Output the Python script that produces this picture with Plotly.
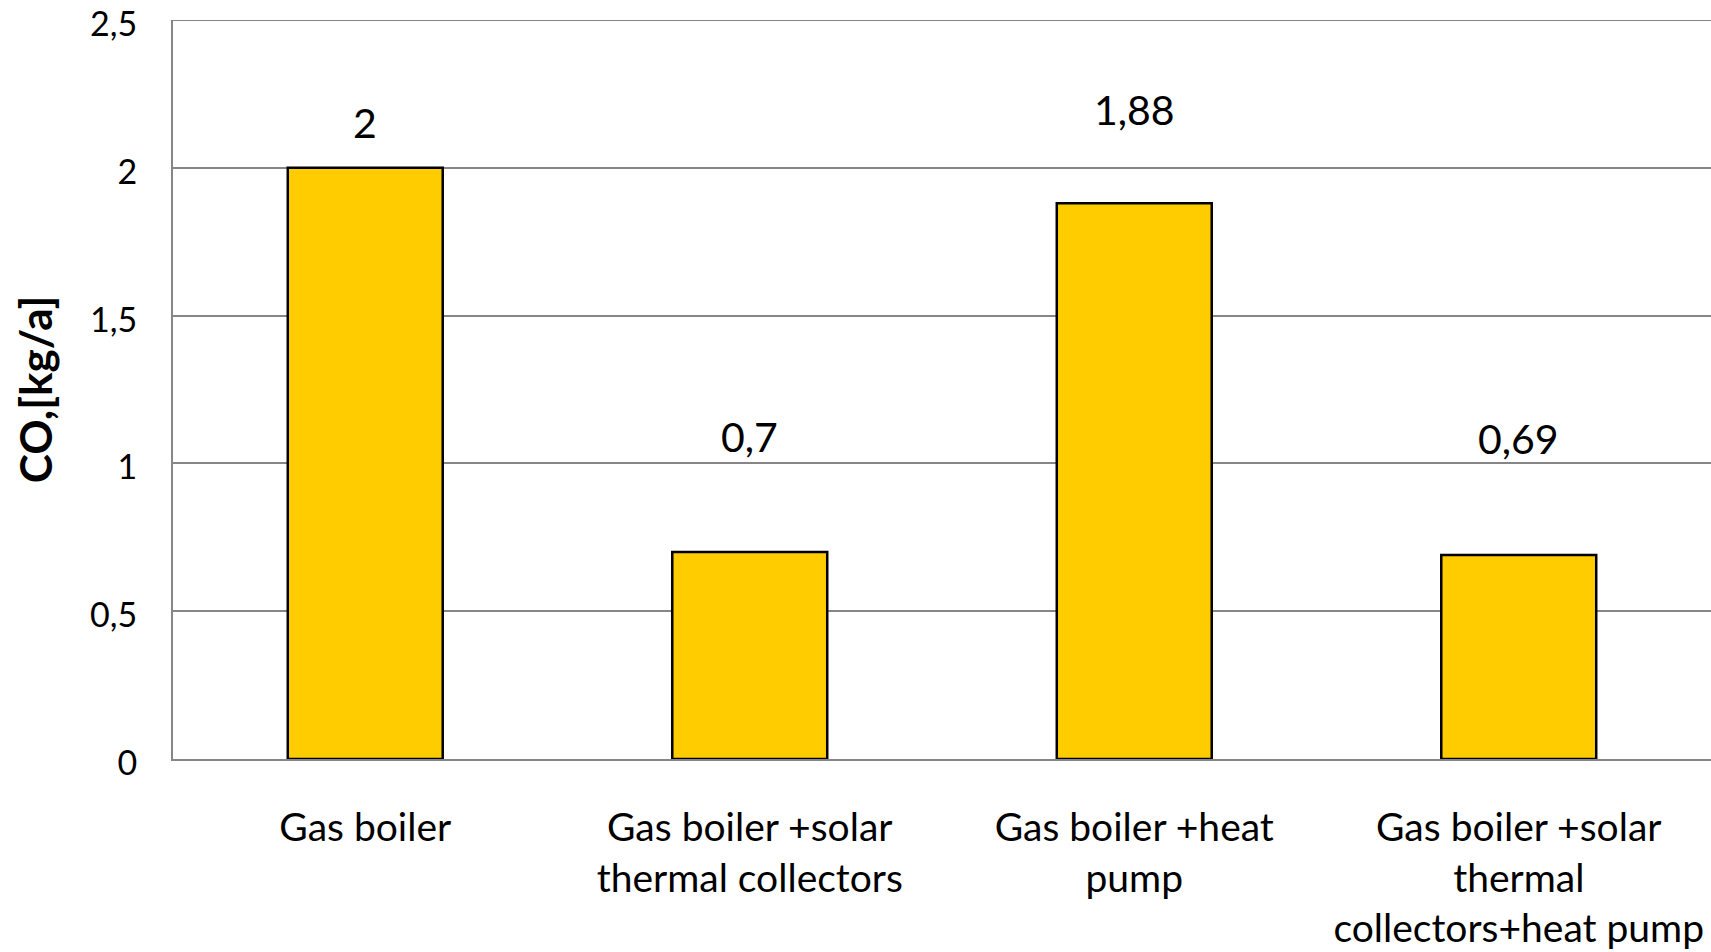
import plotly.graph_objects as go

categories = [
    "Gas boiler",
    "Gas boiler +solar<br>thermal collectors",
    "Gas boiler +heat<br>pump",
    "Gas boiler +solar<br>thermal<br>collectors+heat pump",
]
values = [2.0, 0.7, 1.88, 0.69]
value_labels = ["2", "0,7", "1,88", "0,69"]
y_tick_vals = [0, 0.5, 1, 1.5, 2, 2.5]
y_tick_text = ["0", "0,5", "1", "1,5", "2", "2,5"]
y_title = "CO,[kg/a]"

# label pixel offsets above bar tops (style)
label_shift = [45, 116, 94, 117]

FONT = "Lato"
GRID = "#868686"

fig = go.Figure()
fig.add_trace(go.Bar(
    x=categories,
    y=values,
    marker=dict(color="#FFCC00", line=dict(color="#000000", width=2.5)),
    width=0.403,
    hoverinfo="skip",
))

for c, v, t, s in zip(categories, values, value_labels, label_shift):
    fig.add_annotation(x=c, y=v, text=t, showarrow=False, yanchor="middle",
                       yshift=s, font=dict(family=FONT, size=41, color="#000000"))

# top gridline (at the last tick value), which Plotly culls at the plot edge
fig.add_shape(type="line", xref="paper", x0=0, x1=1, yref="y",
              y0=y_tick_vals[-1], y1=y_tick_vals[-1],
              line=dict(color=GRID, width=2), layer="below")

fig.update_layout(
    width=1711, height=952,
    margin=dict(l=173, r=0, t=20, b=193),
    paper_bgcolor="white", plot_bgcolor="white",
    showlegend=False,
    font=dict(family=FONT, color="#000000"),
)
fig.update_xaxes(
    showline=True, linecolor=GRID, linewidth=2,
    showgrid=False, ticks="", tickfont=dict(family=FONT, size=39),
    ticklabelstandoff=33,
)
fig.update_yaxes(
    range=[0, 2.5], tickvals=y_tick_vals, ticktext=y_tick_text,
    showline=True, linecolor=GRID, linewidth=2,
    showgrid=True, gridcolor=GRID, gridwidth=2,
    zeroline=False, ticks="", tickfont=dict(family=FONT, size=34),
    ticklabelstandoff=27, ticklabelshift=4, ticklabeloverflow="allow",
    title=dict(text="<b>" + y_title + "</b>", font=dict(family=FONT, size=44), standoff=24),
    automargin=False,
)

fig.write_html("out.html", config={"displayModeBar": False},
               post_script="document.body.style.margin='0';")
